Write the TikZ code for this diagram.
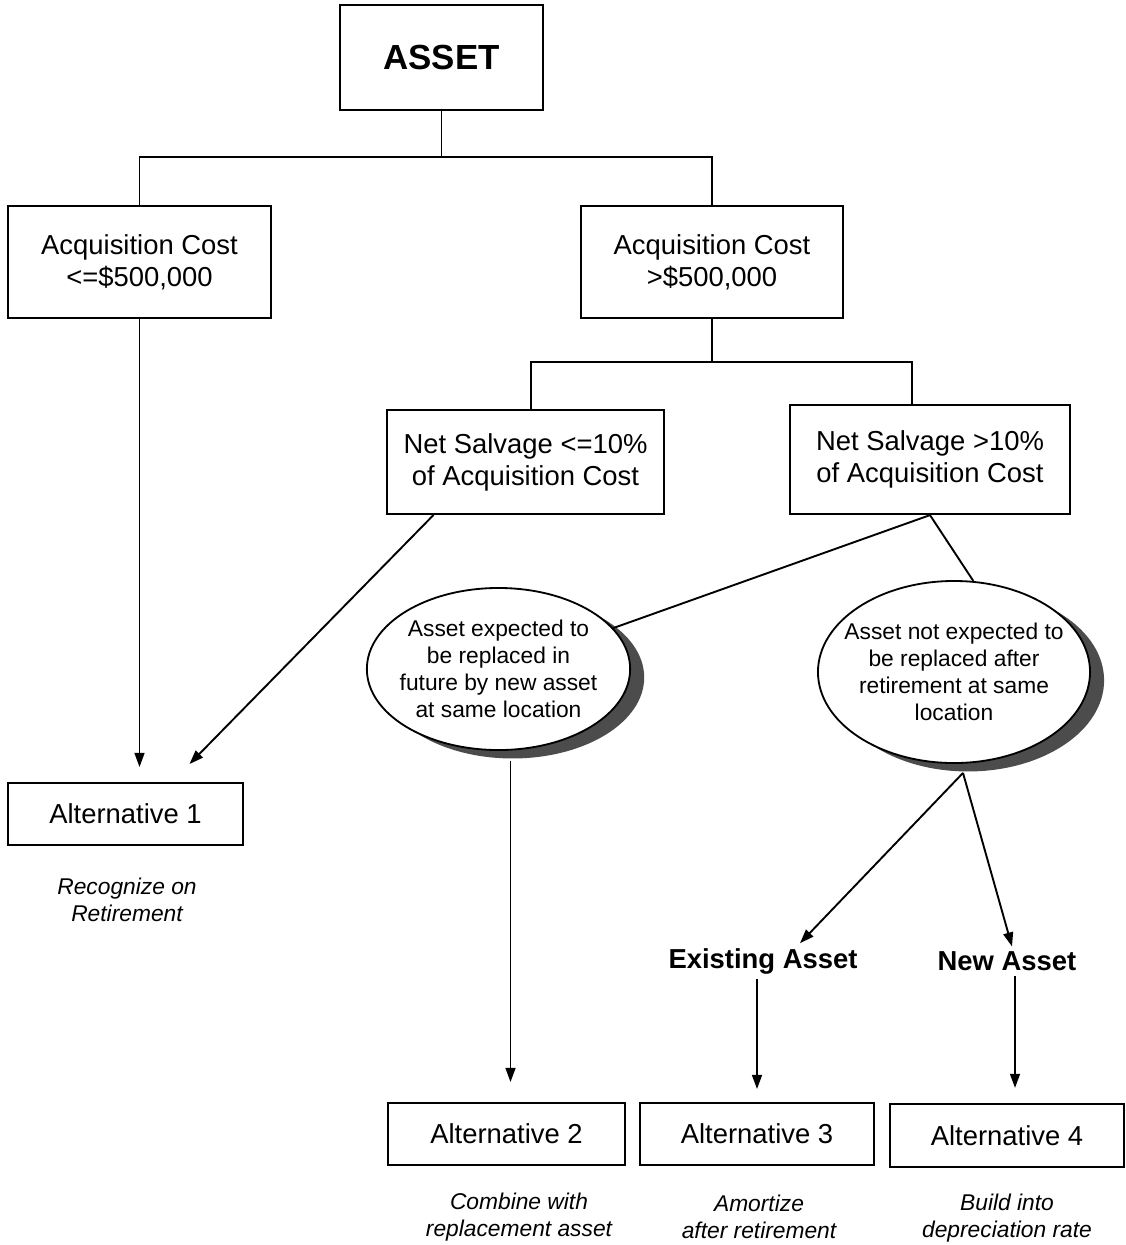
\documentclass[tikz,border=0pt]{standalone}
\usepackage{fontspec}
\setmainfont{Liberation Sans}
\usepackage{tikz}
\usetikzlibrary{arrows.meta, positioning, calc, shapes.geometric, shadows}
\newcommand{\boxfont}{\fontsize{19.5pt}{22.7pt}\selectfont}
\newcommand{\ovalfont}{\fontsize{16.2pt}{19.1pt}\selectfont}
\newcommand{\notefont}{\fontsize{16.2pt}{19.1pt}\selectfont\itshape}

\begin{document}
\begin{tikzpicture}[x=0.025cm, y=-0.025cm, >={Triangle[length=10pt, width=7pt]},
    box/.style={draw, line width=1.4pt, align=center, font=\boxfont, inner sep=0pt},
    oval/.style={ellipse, draw, line width=1.3pt, fill=white, inner sep=0pt,
        drop shadow={shadow xshift=10pt, shadow yshift=-6pt, fill=black!70, opacity=1}},
    ovaltext/.style={align=center, font=\ovalfont},
    note/.style={align=center, font=\notefont},
    branch/.style={font=\boxfont\bfseries},
    link/.style={line width=1.35pt},
    arr/.style={link, ->}]
    \useasboundingbox[fill=white] (0,0) rectangle (1126,1245);

    % ── (top) asset and cost split ────────────────────────────────────
    \node[box, minimum width=5.08cm, minimum height=2.63cm,
        font=\fontsize{24.8pt}{28pt}\selectfont\bfseries] (asset) at (441.5,57.5) {\raisebox{-4pt}{ASSET}};
    \node[box, minimum width=6.58cm, minimum height=2.8cm] (accLow) at (139.5,262) {Acquisition Cost\\<=\$500,000};
    \node[box, minimum width=6.55cm, minimum height=2.8cm] (accHigh) at (712,262) {Acquisition Cost\\>\$500,000};

    \coordinate (split1) at (441.5,157);
    \draw[link] (asset) -- (split1);
    \draw[link] (accLow.north) |- (split1) -| (accHigh.north);

    % ── (mid) salvage split ───────────────────────────────────────────
    \node[box, minimum width=6.93cm, minimum height=2.6cm] (salvLow) at (525.5,462) {Net Salvage <=10\%\\of Acquisition Cost};
    \node[box, minimum width=7cm, minimum height=2.73cm] (salvHigh) at (930,459.5) {Net Salvage >10\%\\of Acquisition Cost};

    \coordinate (split2) at (712,362);
    \coordinate (s2l) at (531,362);
    \coordinate (s2r) at (912,362);
    \draw[link] (accHigh.south) -- (split2);
    \draw[link] (s2l |- salvLow.north) |- (s2r) -- (s2r |- salvHigh.north);

    % ── (ovals) replacement ───────────────────────────────────────────
    \node[oval, minimum width=6.58cm, minimum height=4.05cm,
        label={[ovaltext]center:{Asset expected to\\be replaced in\\future by new asset\\at same location}}] (replYes) at (498.5,669) {};
    \node[oval, minimum width=6.8cm, minimum height=4.55cm,
        label={[ovaltext]center:{Asset not expected to\\be replaced after\\retirement at same\\location}}] (replNo) at (954,672) {};

    \draw[link] (salvHigh.south) -- (replYes);
    \draw[link] (salvHigh.south) -- (replNo.78);

    % ── (bottom) alternatives ─────────────────────────────────────────
    \node[box, minimum width=5.88cm, minimum height=1.55cm] (alt1) at (125.5,814) {Alternative 1};
    \node[box, minimum width=5.93cm, minimum height=1.55cm] (alt2) at (506.5,1134) {Alternative 2};
    \node[box, minimum width=5.85cm, minimum height=1.55cm] (alt3) at (757,1134) {Alternative 3};
    \node[box, minimum width=5.85cm, minimum height=1.58cm] (alt4) at (1007,1135.5) {Alternative 4};

    \node[branch] (existing) at (763,961) {Existing Asset};
    \node[branch] (newAsset) at (1007,961) {New Asset};

    \node[note] (note1) at (127,900) {Recognize on\\Retirement};
    \node[note] (note2) at (519,1217) {Combine with\\replacement asset};
    \node[note] (note3) at (759,1217) {Amortize\\after retirement};
    \node[note] (note4) at (1007,1218) {Build into\\depreciation rate};

    \draw[arr] (accLow.south) -- ($(accLow.south |- alt1.north)+(0,-15)$);
    \draw[arr] ($(salvLow.south)+(-92,0)$) -- ($(alt1.north)+(64,-18)$);
    \draw[arr] ($(replYes.south)+(12,10)$) -- ($(alt2.north)+(4,-20)$);

    \coordinate (fork) at ($(replNo.south)+(9,9)$);
    \draw[arr] (fork) -- ($(existing.north)+(37,0)$);
    \draw[arr] (fork) -- ($(newAsset.north)+(5,0)$);
    \draw[arr] (alt3.north |- existing.south) -- ($(alt3.north)+(0,-13)$);
    \draw[arr] ($(alt4.north |- newAsset.south)+(8,0)$) -- ($(alt4.north)+(8,-15)$);
\end{tikzpicture}
\end{document}
